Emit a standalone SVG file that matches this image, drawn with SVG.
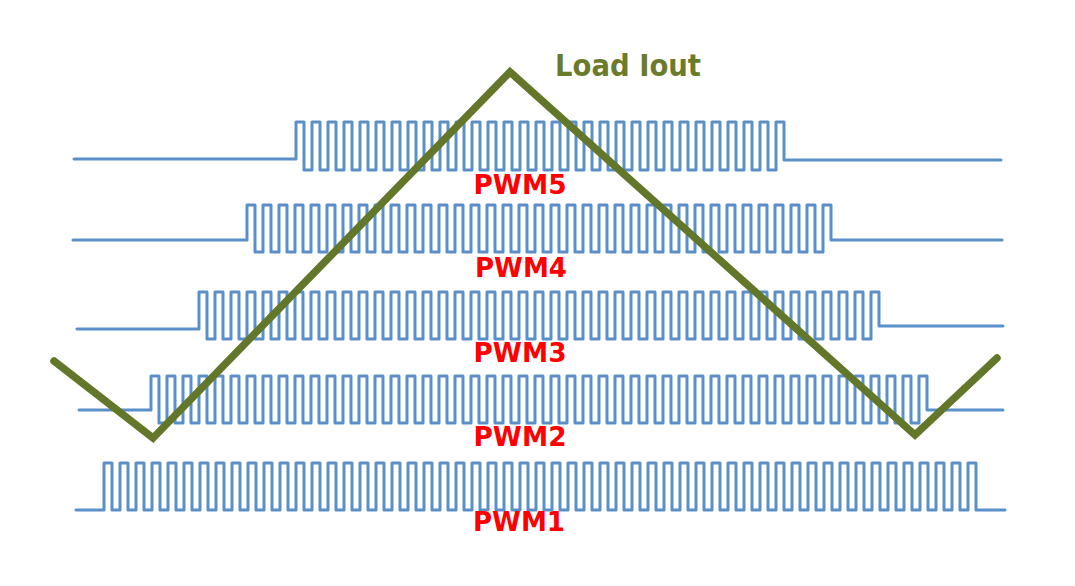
<svg xmlns="http://www.w3.org/2000/svg" width="1075" height="586" viewBox="0 0 1075 586">
<style>
.pwm{fill:none;stroke:#5b8fc8;stroke-width:3;stroke-linejoin:round;stroke-linecap:round}
.lbl{font-family:"DejaVu Sans","Liberation Sans",sans-serif;font-weight:bold;font-size:27px;fill:#ff0000;text-anchor:middle}
.load{fill:none;stroke:#62772a;stroke-width:7.5;stroke-linejoin:miter;stroke-linecap:round}
.ttl{font-family:"DejaVu Sans","Liberation Sans",sans-serif;font-weight:bold;font-size:30px;fill:#6b7b2c}
</style>
<rect width="1075" height="586" fill="#ffffff"/>
<g id="pwm5">
<path class="pwm" d="M74,159H296
V122h8V170h8V122h8V170h8V122h8V170h8V122h8V170h8V122h8V170h8V122h8V170h8
V122h8V170h8V122h8V170h8V122h8V170h8V122h8V170h8V122h8V170h8V122h8V170h8
V122h8V170h8V122h8V170h8V122h8V170h8V122h8V170h8V122h8V170h8V122h8V170h8
V122h8V170h8V122h8V170h8V122h8V170h8V122h8V170h8V122h8V170h8V122h8V170h8
V122h8V170h8V122h8V170h8V122h8V170h8V122h8V170h8V122h8V170h8V122h8V170h8
V122h8V160H1001"/>
</g>
<g id="pwm4">
<path class="pwm" d="M73,240H247
V205h8V252h8V205h8V252h8V205h8V252h8V205h8V252h8V205h8V252h8V205h8V252h8
V205h8V252h8V205h8V252h8V205h8V252h8V205h8V252h8V205h8V252h8V205h8V252h8
V205h8V252h8V205h8V252h8V205h8V252h8V205h8V252h8V205h8V252h8V205h8V252h8
V205h8V252h8V205h8V252h8V205h8V252h8V205h8V252h8V205h8V252h8V205h8V252h8
V205h8V252h8V205h8V252h8V205h8V252h8V205h8V252h8V205h8V252h8V205h8V252h8
V205h8V252h8V205h8V252h8V205h8V252h8V205h8V252h8V205h8V252h8V205h8V252h8
V205h8V240H1002"/>
</g>
<g id="pwm3">
<path class="pwm" d="M77,329H199
V292h8V339h8V292h8V339h8V292h8V339h8V292h8V339h8V292h8V339h8V292h8V339h8
V292h8V339h8V292h8V339h8V292h8V339h8V292h8V339h8V292h8V339h8V292h8V339h8
V292h8V339h8V292h8V339h8V292h8V339h8V292h8V339h8V292h8V339h8V292h8V339h8
V292h8V339h8V292h8V339h8V292h8V339h8V292h8V339h8V292h8V339h8V292h8V339h8
V292h8V339h8V292h8V339h8V292h8V339h8V292h8V339h8V292h8V339h8V292h8V339h8
V292h8V339h8V292h8V339h8V292h8V339h8V292h8V339h8V292h8V339h8V292h8V339h8
V292h8V339h8V292h8V339h8V292h8V339h8V292h8V339h8V292h8V339h8V292h8V339h8
V292h8V326H1003"/>
</g>
<g id="pwm2">
<path class="pwm" d="M79,410H151
V376h8V423h8V376h8V423h8V376h8V423h8V376h8V423h8V376h8V423h8V376h8V423h8
V376h8V423h8V376h8V423h8V376h8V423h8V376h8V423h8V376h8V423h8V376h8V423h8
V376h8V423h8V376h8V423h8V376h8V423h8V376h8V423h8V376h8V423h8V376h8V423h8
V376h8V423h8V376h8V423h8V376h8V423h8V376h8V423h8V376h8V423h8V376h8V423h8
V376h8V423h8V376h8V423h8V376h8V423h8V376h8V423h8V376h8V423h8V376h8V423h8
V376h8V423h8V376h8V423h8V376h8V423h8V376h8V423h8V376h8V423h8V376h8V423h8
V376h8V423h8V376h8V423h8V376h8V423h8V376h8V423h8V376h8V423h8V376h8V423h8
V376h8V423h8V376h8V423h8V376h8V423h8V376h8V423h8V376h8V423h8V376h8V423h8
V376h8V410H1003"/>
</g>
<g id="pwm1">
<path class="pwm" d="M76,510H104
V463h8V510h8V463h8V510h8V463h8V510h8V463h8V510h8V463h8V510h8V463h8V510h8
V463h8V510h8V463h8V510h8V463h8V510h8V463h8V510h8V463h8V510h8V463h8V510h8
V463h8V510h8V463h8V510h8V463h8V510h8V463h8V510h8V463h8V510h8V463h8V510h8
V463h8V510h8V463h8V510h8V463h8V510h8V463h8V510h8V463h8V510h8V463h8V510h8
V463h8V510h8V463h8V510h8V463h8V510h8V463h8V510h8V463h8V510h8V463h8V510h8
V463h8V510h8V463h8V510h8V463h8V510h8V463h8V510h8V463h8V510h8V463h8V510h8
V463h8V510h8V463h8V510h8V463h8V510h8V463h8V510h8V463h8V510h8V463h8V510h8
V463h8V510h8V463h8V510h8V463h8V510h8V463h8V510h8V463h8V510h8V463h8V510h8
V463h8V510h8V463h8V510h8V463h8V510h8V463h8V510h8V463h8V510h8V463h8V510h8
V463h8V510H1005"/>
</g>
<g id="load-iout">
<polyline class="load" points="54,361 153,438 510,72 915,435 997,358"/>
<text class="ttl" x="555" y="76" textLength="146" lengthAdjust="spacingAndGlyphs">Load Iout</text>
</g>
<g id="labels">
<text class="lbl" x="520" y="194" textLength="93" lengthAdjust="spacingAndGlyphs">PWM5</text>
<text class="lbl" x="521" y="277" textLength="92" lengthAdjust="spacingAndGlyphs">PWM4</text>
<text class="lbl" x="520" y="362" textLength="93" lengthAdjust="spacingAndGlyphs">PWM3</text>
<text class="lbl" x="520" y="446" textLength="93" lengthAdjust="spacingAndGlyphs">PWM2</text>
<text class="lbl" x="519" y="531" textLength="92" lengthAdjust="spacingAndGlyphs">PWM1</text>
</g>
</svg>
